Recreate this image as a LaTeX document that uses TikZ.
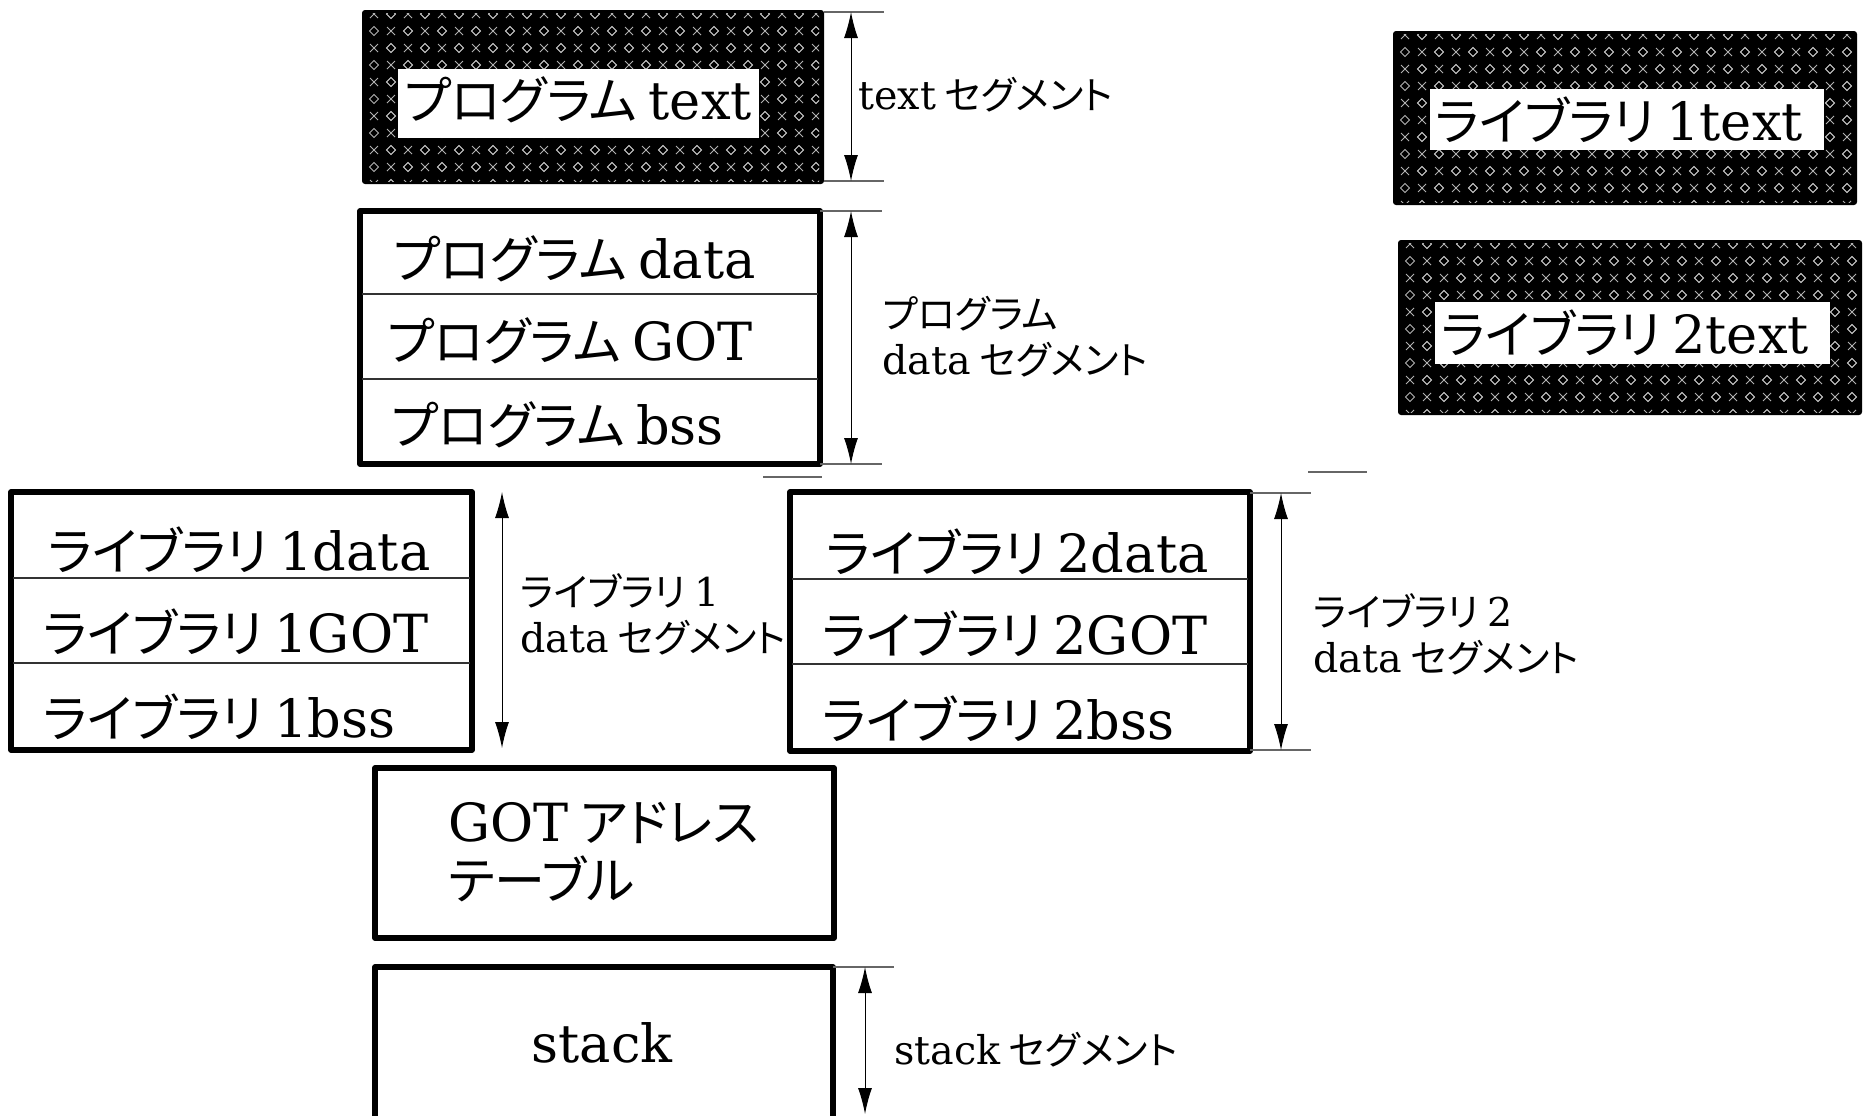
\documentclass[tikz,border=0pt]{standalone}
\usepackage{fontspec}
\setmainfont{DejaVu Serif}
\newfontfamily\jpfont[RawFeature=+palt,Scale=0.97]{Noto Sans CJK JP}
\newcommand\jp[1]{{\jpfont #1}}
\usetikzlibrary{arrows.meta}

% black box filled with a grey x / diamond texture
\newcommand\hatchbox[4]{%
  \fill[black, rounded corners=1.5pt] (#1,#2) rectangle (#3,#4);
  \begin{scope}
    \clip (#1+5,#2+3) rectangle (#3-5,#4-3);
    \foreach \r in {0,...,10}{
      \foreach \c in {0,...,14}{
        \pgfmathsetmacro\px{#1+12+\c*34+mod(\r,2)*17}
        \pgfmathsetmacro\py{#2+4+\r*17}
        \draw[patline,shift={(\px,\py)}] (-4,-4) -- (4,4) (-4,4) -- (4,-4);
        \draw[patline,shift={(\px+17,\py)}] (0,-4.5) -- (4.5,0) -- (0,4.5) -- (-4.5,0) -- cycle;
        \draw[patline,shift={(\px-17,\py)}] (0,-4.5) -- (4.5,0) -- (0,4.5) -- (-4.5,0) -- cycle;
      }}
  \end{scope}}

\begin{document}
\begin{tikzpicture}[x=0.5pt,y=-0.5pt,
  segbox/.style={line width=2.6pt, line join=round},
  divider/.style={line width=0.6pt, draw=black!80},
  tickline/.style={line width=0.6pt, draw=black!60},
  dimarrow/.style={line width=0.5pt, {Latex[length=13pt,width=7pt]}-{Latex[length=13pt,width=7pt]}},
  boxtext/.style={font=\fontsize{26.3}{30}\selectfont, inner sep=0pt},
  dimtext/.style={font=\fontsize{19.8}{23}\selectfont, anchor=west, align=left, inner sep=0pt},
  patline/.style={draw=black!30, line width=0.4pt}]
\useasboundingbox (0,0) rectangle (1869,1115);

% ---- text segments (textured) ----
\hatchbox{362}{10}{824}{184}
\fill[white] (398,69) rectangle (759,138);
\node[boxtext] (ptext) at (578,100) {\jp{プログラム }text};

\hatchbox{1393}{31}{1857}{205}
\fill[white] (1430,89) rectangle (1824,150);
\node[boxtext] (l1text) at (1619,120) {\jp{ライブラリ }1text};

\hatchbox{1398}{240}{1862}{415}
\fill[white] (1435,302) rectangle (1830,364);
\node[boxtext] (l2text) at (1625,333) {\jp{ライブラリ }2text};

% text segment dimension
\coordinate (tTop) at (851,12);
\coordinate (tBot) at (851,181);
\draw[tickline] (824,12) -- (884,12) (824,181) -- (884,181);
\draw[dimarrow] (tTop) -- (tBot);
\node[dimtext] (tlbl) at (858,95) {text\jp{ セグメント}};

% ---- program data segment ----
\draw[segbox] (360,211) rectangle (820,464);
\draw[divider] (362,294) -- (818,294) (362,379) -- (818,379);
\node[boxtext, anchor=west] (pdata) at (393,259) {\jp{プログラム }data};
\node[boxtext, anchor=west] (pgot) at (387,341) {\jp{プログラム }GOT};
\node[boxtext, anchor=west] (pbss) at (391,425) {\jp{プログラム }bss};

\coordinate (pdTop) at (851,211);
\coordinate (pdBot) at (851,464);
\draw[tickline] (820,211) -- (882,211) (820,464) -- (882,464);
\draw[dimarrow] (pdTop) -- (pdBot);
\node[dimtext] (pdlbl) at (882,337) {\jp{プログラム}\\data\jp{ セグメント}};

% short leftover ticks
\draw[tickline] (763,477) -- (822,477);
\draw[tickline] (1308,472) -- (1367,472);

% ---- library 1 data segment ----
\draw[segbox] (11,492) rectangle (472,750);
\draw[divider] (13,578) -- (470,578) (13,663) -- (470,663);
\node[boxtext, anchor=west] (l1data) at (48,550) {\jp{ライブラリ }1data};
\node[boxtext, anchor=west] (l1got) at (43,632) {\jp{ライブラリ }1GOT};
\node[boxtext, anchor=west] (l1bss) at (43,717) {\jp{ライブラリ }1bss};

\coordinate (l1Top) at (502,492);
\coordinate (l1Bot) at (502,748);
\draw[dimarrow] (l1Top) -- (l1Bot);
\node[dimtext] (l1lbl) at (520,614) {\jp{ライブラリ }1\\data\jp{ セグメント}};

% ---- library 2 data segment ----
\draw[segbox] (790,492) rectangle (1250,751);
\draw[divider] (792,579) -- (1248,579) (792,664) -- (1248,664);
\node[boxtext, anchor=west] (l2data) at (826,552) {\jp{ライブラリ }2data};
\node[boxtext, anchor=west] (l2got) at (822,634) {\jp{ライブラリ }2GOT};
\node[boxtext, anchor=west] (l2bss) at (822,719) {\jp{ライブラリ }2bss};

\coordinate (l2Top) at (1281,493);
\coordinate (l2Bot) at (1281,750);
\draw[tickline] (1250,493) -- (1311,493) (1250,750) -- (1311,750);
\draw[dimarrow] (l2Top) -- (l2Bot);
\node[dimtext] (l2lbl) at (1313,634) {\jp{ライブラリ }2\\data\jp{ セグメント}};

% ---- GOT address table ----
\draw[segbox] (375,768) rectangle (834,938);
\node[boxtext, anchor=west, align=left, font=\fontsize{26.3}{29}\selectfont] (gotaddr) at (448,852) {GOT\jp{ アドレス}\\\jp{テーブル}};

% ---- stack segment ----
\draw[segbox] (375,1125) -- (375,967) -- (833,967) -- (833,1125);
\node[boxtext] (stack) at (602,1043) {stack};

\coordinate (sTop) at (865,967);
\coordinate (sBot) at (865,1114);
\draw[tickline] (833,967) -- (894,967);
\draw[dimarrow] (sTop) -- (sBot);
\node[dimtext] (slbl) at (894,1050) {stack\jp{ セグメント}};
\end{tikzpicture}
\end{document}
